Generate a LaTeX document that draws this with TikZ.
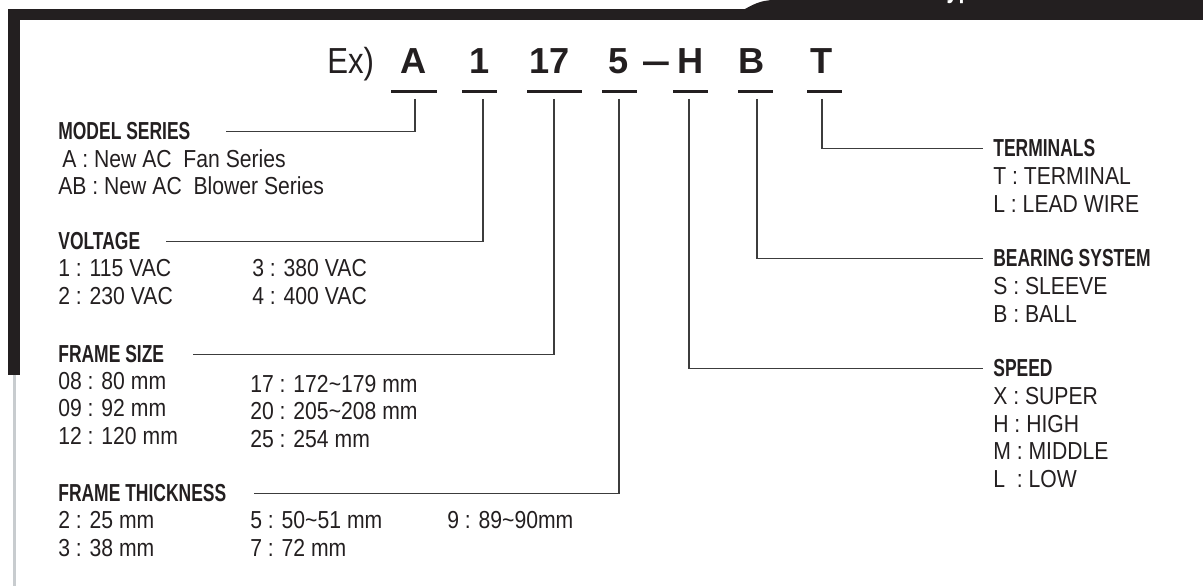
\documentclass[tikz,border=0pt]{standalone}
\usepackage{fontspec}
\setmainfont{Liberation Sans}[FakeStretch=0.86]
\newfontfamily\headfont{Liberation Sans}[FakeStretch=0.71]
\newfontfamily\codefont{Liberation Sans}
\definecolor{ink}{HTML}{231F20}
\definecolor{wirecol}{HTML}{3C3C3C}
\definecolor{railcol}{HTML}{C8CCCF}
\tikzset{
  frame/.style={fill=ink, draw=none},
  rail/.style={line width=0.06cm, draw=railcol},
  tabtext/.style={font=\headfont\bfseries\fontsize{17}{20}\selectfont, text=white, inner sep=0pt, anchor=base west},
  exlabel/.style={font=\fontsize{20.6}{24}\selectfont, text=ink, inner sep=0pt, anchor=base west},
  codechar/.style={font=\codefont\bfseries\fontsize{20.6}{24}\selectfont, text=ink, inner sep=0pt, anchor=base},
  codedash/.style={font=\headfont\bfseries\fontsize{20.6}{24}\selectfont, text=ink, inner sep=0pt, anchor=base},
  uline/.style={line width=1.7pt, draw=ink},
  wire/.style={line width=0.7pt, draw=wirecol},
  headtext/.style={font=\headfont\bfseries\fontsize{14}{17}\selectfont, text=ink, inner sep=0pt, anchor=base west},
  itemtext/.style={font=\fontsize{14}{17}\selectfont, text=ink, inner sep=0pt, anchor=base west},
}

\begin{document}
\begin{tikzpicture}
\useasboundingbox (0,0) rectangle (24.06,11.72);
% frame
\fill[frame] (0.16,11.54) rectangle (24.06,11.32);
\fill[frame] (0.16,11.54) rectangle (0.40,4.22);
\draw[rail] (0.29,4.22) -- (0.29,0);
\fill[frame] (14.00,11.32) .. controls (14.90,11.32) and (14.90,11.72) .. (15.50,11.72) -- (24.06,11.72) -- (24.06,11.32) -- cycle;
\begin{scope}
\clip (0,0) rectangle (24.06,11.72);
\node[tabtext] (tab) at (18.70,11.76) {Type};
\end{scope}
% code
\node[exlabel] (ex) at (6.54,10.24) {Ex)};
\node[codechar] (cA) at (8.27,10.24) {A};
\node[codechar] (c1) at (9.59,10.24) {1};
\node[codechar] (c17) at (10.99,10.24) {17};
\node[codechar] (c5) at (12.38,10.24) {5};
\node[codedash] (cdash) at (13.13,10.24) {\textemdash};
\node[codechar] (cH) at (13.82,10.24) {H};
\node[codechar] (cB) at (15.03,10.24) {B};
\node[codechar] (cT) at (16.44,10.24) {T};
\draw[uline] (7.82,9.88) -- (8.74,9.88);
\draw[uline] (9.24,9.88) -- (9.94,9.88);
\draw[uline] (10.54,9.88) -- (11.64,9.88);
\draw[uline] (12.04,9.88) -- (12.74,9.88);
\draw[uline] (13.46,9.88) -- (14.16,9.88);
\draw[uline] (14.76,9.88) -- (15.46,9.88);
\draw[uline] (16.14,9.88) -- (16.84,9.88);
\coordinate (kA) at (8.30,9.74);
\coordinate (k1) at (9.66,9.74);
\coordinate (k17) at (11.08,9.74);
\coordinate (k5) at (12.38,9.74);
\coordinate (kH) at (13.78,9.74);
\coordinate (kB) at (15.14,9.74);
\coordinate (kT) at (16.44,9.74);
% left groups
\node[headtext] (hModel) at (1.16,8.92) {MODEL SERIES};
\node[itemtext] (mA) at (1.24,8.36) {A : New AC\ \ Fan Series};
\node[itemtext] (mAB) at (1.16,7.82) {AB : New AC\ \ Blower Series};
\node[headtext] (hVolt) at (1.16,6.72) {VOLTAGE};
\node[itemtext] (v1) at (1.16,6.18) {1 : 115 VAC};
\node[itemtext] (v2) at (1.16,5.62) {2 : 230 VAC};
\node[itemtext] (v3) at (5.04,6.18) {3 : 380 VAC};
\node[itemtext] (v4) at (5.04,5.62) {4 : 400 VAC};
\node[headtext] (hFrame) at (1.16,4.46) {FRAME SIZE};
\node[itemtext] (f08) at (1.16,3.92) {08 : 80 mm};
\node[itemtext] (f09) at (1.16,3.38) {09 : 92 mm};
\node[itemtext] (f12) at (1.16,2.82) {12 : 120 mm};
\node[itemtext] (f17) at (5.00,3.86) {17 : 172\textasciitilde179 mm};
\node[itemtext] (f20) at (5.00,3.32) {20 : 205\textasciitilde208 mm};
\node[itemtext] (f25) at (5.00,2.76) {25 : 254 mm};
\node[headtext] (hThick) at (1.16,1.68) {FRAME THICKNESS};
\node[itemtext] (t2) at (1.16,1.14) {2 : 25 mm};
\node[itemtext] (t3) at (1.16,0.58) {3 : 38 mm};
\node[itemtext] (t5) at (5.00,1.14) {5 : 50\textasciitilde51 mm};
\node[itemtext] (t7) at (5.00,0.58) {7 : 72 mm};
\node[itemtext] (t9) at (8.94,1.14) {9 : 89\textasciitilde90mm};
% right groups
\node[headtext] (hTerm) at (19.86,8.58) {TERMINALS};
\node[itemtext] (rT) at (19.86,8.02) {T : TERMINAL};
\node[itemtext] (rL) at (19.86,7.46) {L : LEAD WIRE};
\node[headtext] (hBear) at (19.86,6.38) {BEARING SYSTEM};
\node[itemtext] (bS) at (19.86,5.82) {S : SLEEVE};
\node[itemtext] (bB) at (19.86,5.26) {B : BALL};
\node[headtext] (hSpeed) at (19.86,4.18) {SPEED};
\node[itemtext] (sX) at (19.86,3.62) {X : SUPER};
\node[itemtext] (sH) at (19.86,3.06) {H : HIGH};
\node[itemtext] (sM) at (19.86,2.52) {M : MIDDLE};
\node[itemtext] (sL) at (19.86,1.96) {L\ \ : LOW};
% connectors
\draw[wire] (kA) |- ([xshift=0.70cm]hModel.east);
\draw[wire] (k1) |- ([xshift=0.50cm]hVolt.east);
\draw[wire] (k17) |- ([xshift=0.58cm]hFrame.east);
\draw[wire] (k5) |- ([xshift=0.54cm]hThick.east);
\draw[wire] (kH) |- ([xshift=-0.20cm]hSpeed.west);
\draw[wire] (kB) |- ([xshift=-0.20cm]hBear.west);
\draw[wire] (kT) |- ([xshift=-0.20cm]hTerm.west);
\end{tikzpicture}
\end{document}
